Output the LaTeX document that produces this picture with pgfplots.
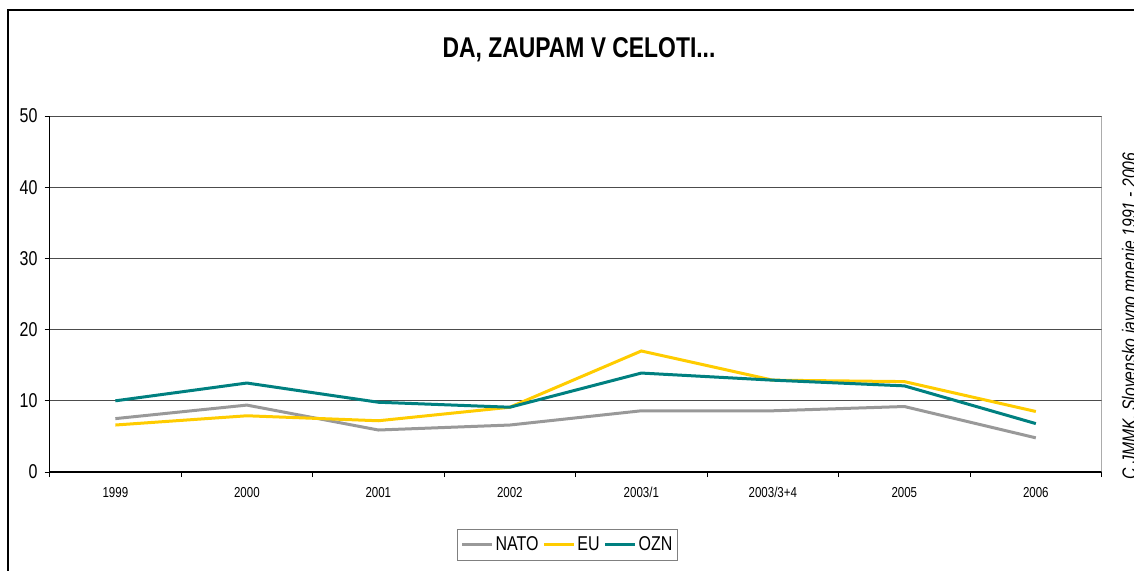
\documentclass[border=0pt]{standalone}
\usepackage{fontspec}
\setmainfont[FakeStretch=0.8]{Liberation Sans}
\usepackage{pgfplots}
\pgfplotsset{compat=1.18}
\definecolor{natoc}{HTML}{999999}
\definecolor{euc}{HTML}{FFCC00}
\definecolor{oznc}{HTML}{008080}
\begin{document}
\begin{tikzpicture}
\path[use as bounding box] (0,0) rectangle (567pt,-285pt);
\draw[line width=0.9pt] (4pt,-290pt) -- (4pt,-5pt) -- (575pt,-5pt);
\node[font=\fontsize{14.3}{16}\selectfont\bfseries] at (289.5pt,-25pt) {DA, ZAUPAM V CELOTI...};
\node[rotate=90, anchor=base, font=\fontsize{9.8}{11}\selectfont\itshape] at (568pt,-158pt) {C JMMK, Slovensko javno mnenje 1991 - 2006};
\begin{axis}[
  at={(24.8pt,-236pt)}, anchor=south west, scale only axis,
  width=526pt, height=178pt,
  xmin=-0.5, xmax=7.5, ymin=0, ymax=50, ytick={0,10,...,50},
  xtick={-0.5,0.5,...,7.5}, xticklabels={},
  extra x ticks={0,1,2,3,4,5,6,7},
  extra x tick labels={1999,2000,2001,2002,2003/1,2003/3+4,2005,2006},
  extra x tick style={major tick length=0pt, grid=none},
  x tick label style={font=\fontsize{7.2}{8}\selectfont, yshift=-4pt},
  y tick label style={font=\fontsize{10}{11}\selectfont},
  /pgf/number format/assume math mode=true,
  ymajorgrids, grid style={gray!60!black, line width=0.4pt},
  axis x line*=bottom, axis y line*=left,
  axis line style={black, line width=0.6pt},
  tick align=outside, major tick length=2.5pt, tick style={black, line width=0.5pt},
  legend columns=3,
  legend style={at={(0.4923,-0.205)}, anchor=center, draw=gray, line width=0.5pt,
    font=\fontsize{10}{12}\selectfont, inner sep=1.5pt,
    /tikz/every even column/.append style={column sep=1pt},
    nodes={inner xsep=1pt}},
  legend image code/.code={\draw[#1, line width=1.5pt] (0pt,0pt) -- (15pt,0pt);},
  every axis plot/.append style={line width=1.5pt},
]
\draw[gray, line width=0.5pt] (rel axis cs:1,0) -- (rel axis cs:1,1);
\addplot[natoc] coordinates {(0,7.5) (1,9.4) (2,5.9) (3,6.6) (4,8.6) (5,8.6) (6,9.2) (7,4.8)};
\addlegendentry{NATO}
\addplot[euc] coordinates {(0,6.6) (1,7.9) (2,7.2) (3,9.1) (4,17.0) (5,12.9) (6,12.7) (7,8.5)};
\addlegendentry{EU}
\addplot[oznc] coordinates {(0,10.0) (1,12.5) (2,9.8) (3,9.1) (4,13.9) (5,12.9) (6,12.1) (7,6.8)};
\addlegendentry{OZN}
\end{axis}
\end{tikzpicture}
\end{document}
